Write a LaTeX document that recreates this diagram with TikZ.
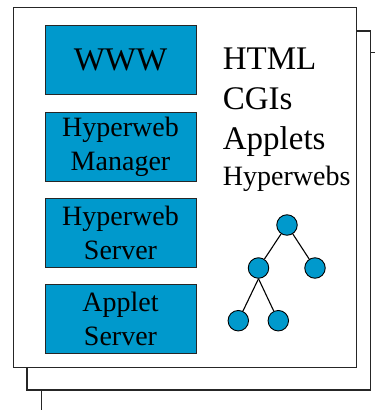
\documentclass[tikz,border=0pt]{standalone}
\usepackage{fontspec}
\setmainfont{Liberation Serif}
\usepackage{xcolor}
\definecolor{boxblue}{RGB}{0,153,204}
\tikzset{
	sheet/.style={draw=black!85, line width=1.1pt, fill=white},
	compbox/.style={draw=black!85, line width=1pt, fill=boxblue, minimum width=151pt, minimum height=69pt, inner sep=0pt, align=center, font=\fontsize{28}{34}\selectfont},
	treenode/.style={circle, draw=black, line width=0.9pt, fill=boxblue, minimum size=20.5pt, inner sep=0pt},
	treeedge/.style={line width=1.1pt},
	bigitem/.style={anchor=base west, inner sep=0pt, font=\fontsize{33}{36}\selectfont},
	smallitem/.style={anchor=base west, inner sep=0pt, font=\fontsize{28}{34}\selectfont}
}
\begin{document}
\begin{tikzpicture}[x=1pt, y=-1pt]
		\useasboundingbox (0,0) rectangle (375,410);
		\clip (0,0) rectangle (375,410);
		\draw[sheet] (41.3,52.7) rectangle (400,430);
		\draw[sheet] (27,31) rectangle (370.7,390);
		\draw[sheet] (13.3,7.5) rectangle (356.3,367.5);
		\node[compbox, font=\fontsize{33}{36}\selectfont] (www) at (120.5,60) {WWW};
		\node[compbox] (hwman) at (120.5,146.5) {Hyperweb\\Manager};
		\node[compbox] (hwsrv) at (120.5,232.5) {Hyperweb\\Server};
		\node[compbox] (appsrv) at (120.5,318.5) {Applet\\Server};
		\node[bigitem] (html) at (222.7,69) {HTML};
		\node[bigitem] (cgis) at (222.7,109.3) {CGIs};
		\node[bigitem] (applets) at (222.7,149) {Applets};
		\node[smallitem] (hwebs) at (222.7,185) {Hyperwebs};
		\node[treenode] (troot) at (287,225) {};
		\node[treenode] (tmid) at (258.5,268) {};
		\node[treenode] (tright) at (315,268) {};
		\node[treenode] (tbl) at (238.3,320.7) {};
		\node[treenode] (tbr) at (278.3,320.7) {};
		\draw[treeedge] (troot) -- (tmid);
		\draw[treeedge] (troot) -- (tright);
		\draw[treeedge] (tmid.south) -- (tbl);
		\draw[treeedge] (tmid.south) -- (tbr);
\end{tikzpicture}
\end{document}
